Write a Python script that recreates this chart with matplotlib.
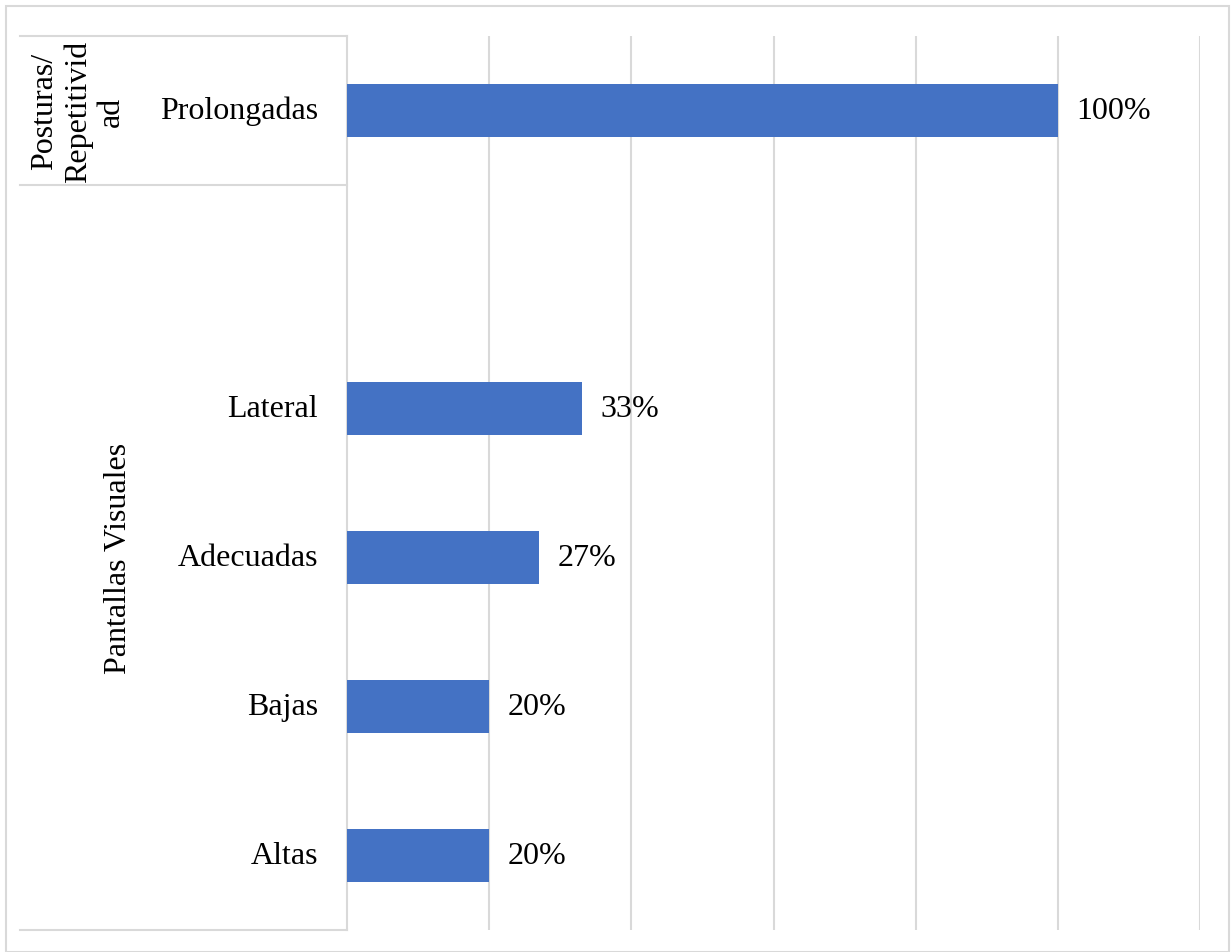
import matplotlib
matplotlib.use("Agg")
import matplotlib.pyplot as plt
from matplotlib.lines import Line2D
from matplotlib.patches import Rectangle

# Categories top to bottom (empty slot keeps the spacing of the Excel layout)
categories = ["Prolongadas", "", "Lateral", "Adecuadas", "Bajas", "Altas"]
values = [1.00, None, 0.33, 0.27, 0.20, 0.20]
groups = ["Posturas/\nRepetitivid\nad", "Pantallas Visuales"]

W, H = 1231, 953
fig = plt.figure(figsize=(W / 100, H / 100), dpi=100)
plt.rcParams["font.family"] = ["Liberation Serif", "DejaVu Serif"]

grid_col = "#d9d9d9"
bar_col = "#4472C4"
fs = 23

# outer chart frame
fig.patches.append(Rectangle((6 / W, 0), (1229 - 6) / W, (H - 7) / H,
                             transform=fig.transFigure, fill=False,
                             edgecolor=grid_col, linewidth=1.5))

left, right, top, bottom = 347, 1200, 37, 931
ax = fig.add_axes([left / W, 1 - bottom / H, (right - left) / W, (bottom - top) / H])
n = len(categories)
ax.set_ylim(n, 0)
ax.set_xlim(0, 1.2)

ypos = [i + 0.5 for i in range(n)]
for y, v in zip(ypos, values):
    if v is None:
        continue
    ax.barh(y, v, height=0.35, color=bar_col, zorder=3)
    ax.text(v + 0.026, y, f"{round(v * 100)}%", va="center", ha="left",
            fontsize=fs, color="black")

ax.set_xticks([0.2, 0.4, 0.6, 0.8, 1.0, 1.2])
ax.xaxis.grid(True, color=grid_col, linewidth=1.5, zorder=0)
ax.tick_params(axis="x", length=0, labelbottom=False)
ax.set_yticks([])
for s in ["top", "right", "bottom"]:
    ax.spines[s].set_visible(False)
ax.spines["left"].set_color(grid_col)
ax.spines["left"].set_linewidth(1.5)

# category labels
for y, c in zip(ypos, categories):
    if c:
        ax.text(-29 / (right - left) * 1.2, y, c, ha="right", va="center",
                fontsize=fs, color="black")

# group separators and group labels in the label area
def fx(px):
    return px / W

def fy(slot):
    return 1 - (top + slot / n * (bottom - top)) / H

for b in [0, 1, 6]:
    fig.lines.append(Line2D([fx(20), fx(left)], [fy(b), fy(b)],
                            transform=fig.transFigure, color=grid_col, linewidth=1.5))

fig.text(fx(78), fy(0.5), groups[0], rotation=90, ha="center", va="center",
         fontsize=fs, linespacing=1.2, multialignment="center")
fig.text(fx(118), fy(3.5), groups[1], rotation=90, ha="center", va="center",
         fontsize=fs)

fig.savefig("out.png", dpi=100)
